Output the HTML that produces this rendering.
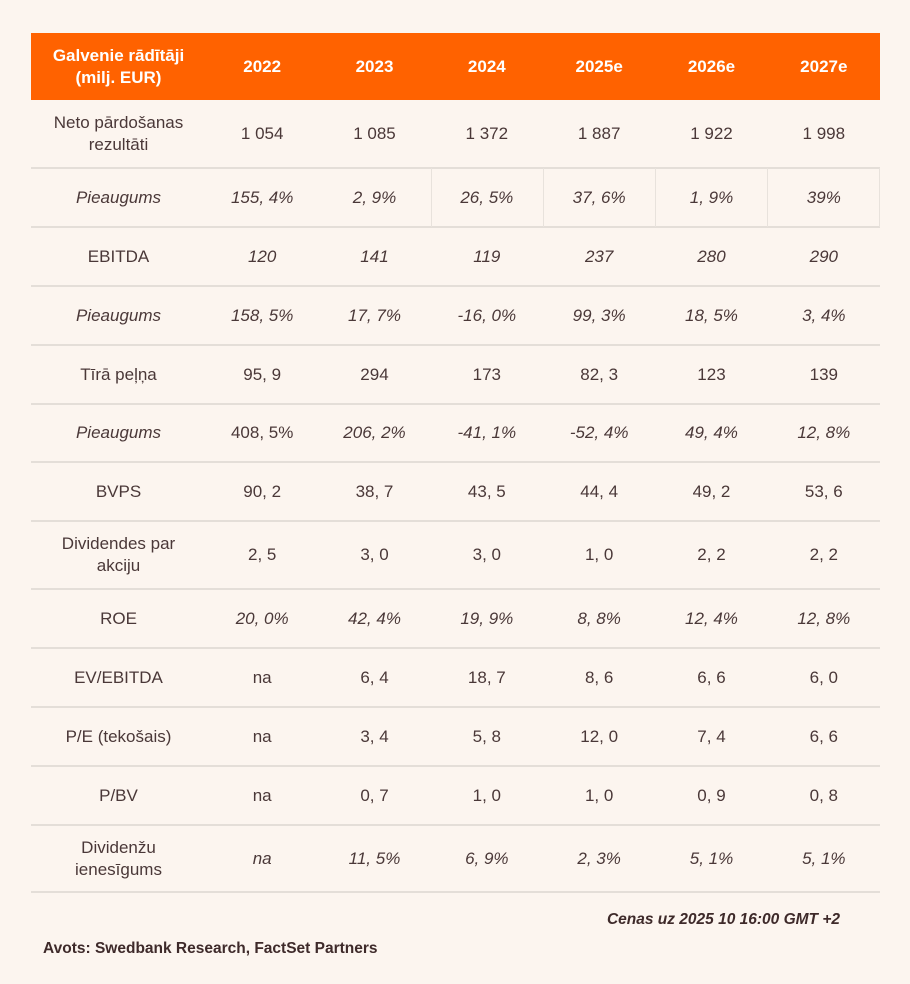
<!DOCTYPE html>
<html>
<head>
<meta charset="utf-8">
<style>
  html, body { margin:0; padding:0; }
  body { width:910px; height:984px; background:#fcf5ef; position:relative; overflow:hidden;
         font-family:"Liberation Sans", sans-serif; color:#4a3838; }
  .hdr { position:absolute; left:31px; top:33px; width:849px; height:67px; background:#ff6200; }
  .row { position:absolute; left:31px; width:849px; display:flex; }
  .c { display:flex; align-items:center; justify-content:center; text-align:center; font-size:17px; line-height:22px; }
  .c0 { width:175px; }
  .cv { width:112.33px; }
  .hdr .c { color:#fff; font-weight:bold; font-size:17px; line-height:22px; height:67px; }
  .i { font-style:italic; }
  .ln { position:absolute; left:31px; width:849px; height:2px; background:#e4ded8; }
  .vl { position:absolute; width:1px; background:#e8e2dc; top:168px; height:59px; }
  .foot1 { position:absolute; right:70px; top:911px; font-size:15.5px; font-weight:bold; font-style:italic; color:#3e2a2a; }
  .foot2 { position:absolute; left:43px; top:940px; font-size:15.5px; font-weight:bold; color:#3e2a2a; }
</style>
</head>
<body>
<div class="hdr" style="display:flex;">
  <div class="c c0">Galvenie rādītāji<br>(milj. EUR)</div>
  <div class="c cv">2022</div>
  <div class="c cv">2023</div>
  <div class="c cv">2024</div>
  <div class="c cv">2025e</div>
  <div class="c cv">2026e</div>
  <div class="c cv">2027e</div>
</div>

<div class="row" style="top:100px;height:68px;">
  <div class="c c0">Neto pārdošanas<br>rezultāti</div>
  <div class="c cv">1 054</div><div class="c cv">1 085</div><div class="c cv">1 372</div>
  <div class="c cv">1 887</div><div class="c cv">1 922</div><div class="c cv">1 998</div>
</div>
<div class="row" style="top:168px;height:59px;">
  <div class="c c0 i">Pieaugums</div>
  <div class="c cv i">155, 4%</div><div class="c cv i">2, 9%</div><div class="c cv i">26, 5%</div>
  <div class="c cv i">37, 6%</div><div class="c cv i">1, 9%</div><div class="c cv i">39%</div>
</div>
<div class="row" style="top:227px;height:59px;">
  <div class="c c0">EBITDA</div>
  <div class="c cv i">120</div><div class="c cv i">141</div><div class="c cv i">119</div>
  <div class="c cv i">237</div><div class="c cv i">280</div><div class="c cv i">290</div>
</div>
<div class="row" style="top:286px;height:59px;">
  <div class="c c0 i">Pieaugums</div>
  <div class="c cv i">158, 5%</div><div class="c cv i">17, 7%</div><div class="c cv i">-16, 0%</div>
  <div class="c cv i">99, 3%</div><div class="c cv i">18, 5%</div><div class="c cv i">3, 4%</div>
</div>
<div class="row" style="top:345px;height:59px;">
  <div class="c c0">Tīrā peļņa</div>
  <div class="c cv">95, 9</div><div class="c cv">294</div><div class="c cv">173</div>
  <div class="c cv">82, 3</div><div class="c cv">123</div><div class="c cv">139</div>
</div>
<div class="row" style="top:404px;height:58px;">
  <div class="c c0 i">Pieaugums</div>
  <div class="c cv">408, 5%</div><div class="c cv i">206, 2%</div><div class="c cv i">-41, 1%</div>
  <div class="c cv i">-52, 4%</div><div class="c cv i">49, 4%</div><div class="c cv i">12, 8%</div>
</div>
<div class="row" style="top:462px;height:59px;">
  <div class="c c0">BVPS</div>
  <div class="c cv">90, 2</div><div class="c cv">38, 7</div><div class="c cv">43, 5</div>
  <div class="c cv">44, 4</div><div class="c cv">49, 2</div><div class="c cv">53, 6</div>
</div>
<div class="row" style="top:521px;height:68px;">
  <div class="c c0">Dividendes par<br>akciju</div>
  <div class="c cv">2, 5</div><div class="c cv">3, 0</div><div class="c cv">3, 0</div>
  <div class="c cv">1, 0</div><div class="c cv">2, 2</div><div class="c cv">2, 2</div>
</div>
<div class="row" style="top:589px;height:59px;">
  <div class="c c0">ROE</div>
  <div class="c cv i">20, 0%</div><div class="c cv i">42, 4%</div><div class="c cv i">19, 9%</div>
  <div class="c cv i">8, 8%</div><div class="c cv i">12, 4%</div><div class="c cv i">12, 8%</div>
</div>
<div class="row" style="top:648px;height:59px;">
  <div class="c c0">EV/EBITDA</div>
  <div class="c cv">na</div><div class="c cv">6, 4</div><div class="c cv">18, 7</div>
  <div class="c cv">8, 6</div><div class="c cv">6, 6</div><div class="c cv">6, 0</div>
</div>
<div class="row" style="top:707px;height:59px;">
  <div class="c c0">P/E (tekošais)</div>
  <div class="c cv">na</div><div class="c cv">3, 4</div><div class="c cv">5, 8</div>
  <div class="c cv">12, 0</div><div class="c cv">7, 4</div><div class="c cv">6, 6</div>
</div>
<div class="row" style="top:766px;height:59px;">
  <div class="c c0">P/BV</div>
  <div class="c cv">na</div><div class="c cv">0, 7</div><div class="c cv">1, 0</div>
  <div class="c cv">1, 0</div><div class="c cv">0, 9</div><div class="c cv">0, 8</div>
</div>
<div class="row" style="top:825px;height:67px;">
  <div class="c c0">Dividenžu<br>ienesīgums</div>
  <div class="c cv i">na</div><div class="c cv i">11, 5%</div><div class="c cv i">6, 9%</div>
  <div class="c cv i">2, 3%</div><div class="c cv i">5, 1%</div><div class="c cv i">5, 1%</div>
</div>

<div class="ln" style="top:167px;"></div>
<div class="ln" style="top:226px;"></div>
<div class="ln" style="top:285px;"></div>
<div class="ln" style="top:344px;"></div>
<div class="ln" style="top:403px;"></div>
<div class="ln" style="top:461px;"></div>
<div class="ln" style="top:520px;"></div>
<div class="ln" style="top:588px;"></div>
<div class="ln" style="top:647px;"></div>
<div class="ln" style="top:706px;"></div>
<div class="ln" style="top:765px;"></div>
<div class="ln" style="top:824px;"></div>
<div class="ln" style="top:891px;"></div>

<div class="vl" style="left:431px;"></div>
<div class="vl" style="left:543px;"></div>
<div class="vl" style="left:655px;"></div>
<div class="vl" style="left:767px;"></div>
<div class="vl" style="left:879px;"></div>

<div class="foot1">Cenas uz 2025 10 16:00 GMT +2</div>
<div class="foot2">Avots: Swedbank Research, FactSet Partners</div>
</body>
</html>
